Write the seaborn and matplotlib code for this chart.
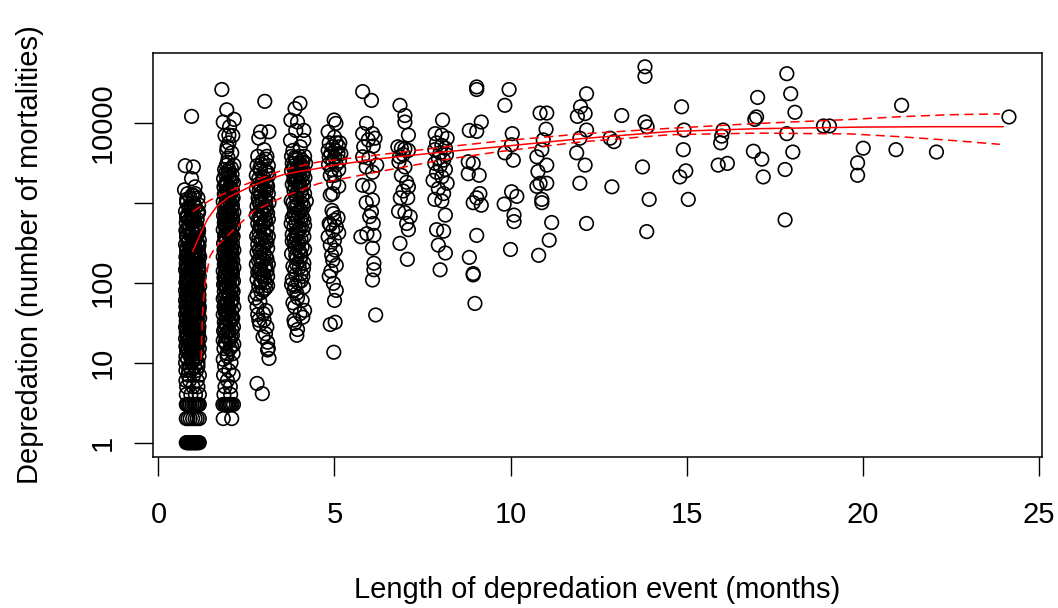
import matplotlib
matplotlib.use("Agg")
import matplotlib.pyplot as plt
from matplotlib.ticker import NullLocator
import pandas as pd
import seaborn as sns

# ---------------- data (months, mortalities) ----------------
col01 = [(0.79,1),(0.84,1),(0.89,1),(0.94,1),(1.00,1),(1.05,1),(1.10,1),(1.16,1),
         (0.82,1),(0.87,1),(0.92,1),(0.97,1),(1.02,1),(1.08,1),(1.13,1),
         (0.79,2),(0.84,2),(0.90,2),(0.97,2),(1.04,2),(1.10,2),(1.16,2),
         (0.79,3),(0.82,3),(0.86,3),(0.90,3),(0.95,3),(1.00,3),(1.04,3),(1.08,3),(1.12,3),(1.16,3),
         (0.79,4),(0.92,4),(1.05,4),(1.16,4),
         (0.80,5),(0.98,5),(1.12,5),
         (0.78,6),(0.88,6),(1.10,6),
         (0.84,7),(1.00,7),(1.16,7),
         (0.78,8),(0.86,8),(0.93,8),(1.08,8),
         (0.88,9),(1.03,9),(1.12,9),
         (0.77,10),(0.95,10),(1.12,10),
         (0.83,11),(0.97,11),(1.05,11),
         (0.78,12),(0.90,12),(0.92,12),(1.15,12),
         (0.86,13),(1.01,13),(1.08,13),
         (0.80,14),(0.96,14),(1.10,14),
         (0.84,15),(0.92,15),(1.04,15),(1.16,15),
         (0.78,16),(0.99,16),(1.09,16),
         (0.87,17),(0.95,17),(1.12,17),
         (0.81,18),(0.96,18),(1.03,18),
         (0.77,20),(0.90,20),(1.06,20),(1.17,20),
         (0.85,22),(0.95,22),(1.00,22),
         (0.79,24),(0.94,24),(1.06,24),(1.13,24),
         (0.88,26),(0.97,26),(1.07,26),
         (0.77,28),(0.98,28),(1.10,28),(1.15,28),
         (0.84,30),(0.92,30),(1.03,30),
         (0.79,33),(0.93,33),(1.10,33),
         (0.87,36),(0.95,36),(1.17,36),
         (0.77,40),(0.88,40),(0.96,40),(1.06,40),
         (0.83,43),(1.02,43),(1.12,43),
         (0.90,46),(0.96,46),(1.02,46),
         (0.78,50),(0.88,50),(0.94,50),(1.16,50),
         (0.86,55),(1.04,55),(1.08,55),
         (0.77,60),(0.97,60),(1.13,60),
         (0.84,65),(0.88,65),(1.02,65),
         (0.79,70),(0.92,70),(0.97,70),(1.15,70),
         (0.88,75),(1.06,75),(1.12,75),
         (0.77,80),(0.86,80),(0.99,80),(1.12,80),
         (0.83,90),(0.95,90),(1.17,90),
         (0.78,100),(0.90,100),(1.04,100),
         (0.86,110),(1.01,110),(1.11,110),
         (0.80,120),(0.95,120),(0.97,120),(1.16,120),
         (0.89,130),(1.05,130),
         (0.77,145),(0.93,145),(1.00,145),(1.12,145),
         (0.85,160),(1.01,160),
         (0.79,175),(0.96,175),(1.08,175),(1.14,175),
         (0.88,190),(1.02,190),(1.07,190),
         (0.78,210),(0.94,210),(0.99,210),(1.17,210),
         (0.84,230),(0.94,230),(1.14,230),
         (0.80,250),(1.00,250),(1.05,250),(1.13,250),
         (0.89,280),(0.95,280),(1.00,280),
         (0.77,300),(0.95,300),(1.10,300),
         (0.85,340),(1.04,340),(1.16,340),
         (0.80,370),(1.02,370),
         (0.80,390),(0.90,400),(0.96,420),(1.08,400),
         (0.78,450),(0.97,450),(1.12,480),(1.14,450),
         (0.86,500),(0.88,540),(1.04,500),
         (0.79,560),(0.93,560),(1.02,600),
         (0.81,640),(0.88,620),(1.10,620),
         (0.82,700),(0.95,700),(1.00,700),
         (0.77,780),(0.95,780),(1.12,780),(1.14,760),
         (0.86,880),(0.88,850),(1.05,880),
         (0.80,1000),(0.98,1000),(1.02,950),
         (0.80,1100),(0.90,1150),(1.12,1150),
         (0.83,1300),(0.96,1250),(1.04,1300),
         (0.74,1450),(1.04,1580),(0.94,2000),(0.99,2800),(0.76,2900),(0.94,12000)]

col01_extra = [(0.95,19),(1.10,19),(0.82,21),(1.03,23),(0.90,25),(1.14,25),(0.80,27),(0.96,29),(1.09,31),
               (0.81,35),(1.00,38),(0.91,42),(1.15,45),(0.82,48),(1.01,52),(0.90,58),(1.10,62),(0.80,68),
               (0.97,72),(1.05,78),(0.90,85),(1.08,95),(0.80,105),(1.00,115),(0.91,125),(1.14,138),
               (0.82,150),(1.04,168),(0.92,182),(1.12,200),(0.82,220),(1.06,240),(0.93,265),(1.15,290),
               (0.84,320),(1.00,355),(0.92,385),(1.13,420),(0.83,470),(1.07,530),(0.97,590),(0.80,660),
               (1.12,740),(0.92,830),(1.14,940),(1.00,1220),
               (0.86,19),(1.12,21),(0.83,23),(0.86,32),(1.04,34),(0.80,37),(1.13,38),(0.81,44),(1.14,48),
               (0.80,56),(0.95,58),(1.15,60),(0.82,70),(0.80,88),(0.94,92),(1.13,96),(0.87,102),(1.01,108),
               (0.81,113),(1.10,124),(0.84,132),(1.00,138),(0.92,142),(1.15,150),(0.80,156),(0.96,165),
               (0.86,180),(0.81,205),(1.14,225),(0.87,240),(0.80,270),(1.12,310),(0.86,330),(1.04,350)]

col02 = [(1.84,2),(2.08,2),
         (1.83,3),(1.88,3),(1.92,3),(1.96,3),(2.00,3),(2.04,3),(2.08,3),(2.13,3),
         (1.86,4),(2.05,4),(1.89,5),(2.04,5),(1.96,6),(1.85,7),(2.12,7),(2.00,8),(1.88,9),(2.06,10),(1.84,11),
         (1.95,13),(2.12,13),(1.86,15),(2.03,15),(1.92,17),(2.14,17),(1.84,19),(2.02,19),(1.90,22),(2.10,22),
         (1.85,25),(2.00,25),(1.95,28),(2.13,28),(1.87,32),(2.04,32),(1.93,36),(2.11,36),(1.84,40),(2.00,40),
         (1.90,45),(2.08,45),(1.86,50),(2.14,50),(1.96,56),(2.05,56),(1.84,63),(2.10,63),(1.92,70),(2.02,70),
         (1.87,78),(2.12,78),(1.95,86),(2.06,86),(1.85,95),(2.00,95),(1.91,105),(2.13,105),(1.86,115),(2.04,115),
         (1.97,128),(2.10,128),(1.84,140),(2.02,140),(1.92,155),(2.14,155),(1.87,170),(2.06,170),(1.95,190),(2.11,190),
         (1.84,210),(2.01,210),(1.90,230),(2.09,230),(1.86,255),(2.14,255),(1.97,280),(2.05,280),(1.85,310),(2.10,310),
         (1.93,340),(2.02,340),(1.88,380),(2.12,380),(1.96,420),(2.06,420),(1.84,460),(2.00,460),(1.91,510),(2.13,510),
         (1.87,560),(2.05,560),(1.96,620),(2.11,620),(1.85,690),(2.02,690),(1.92,760),(2.14,760),(1.88,840),(2.06,840),
         (1.97,930),(2.10,930),(1.84,1030),(2.02,1030),(1.93,1150),(2.12,1150),(1.87,1280),(2.04,1280),(1.96,1420),(2.10,1420),
         (1.86,1580),(2.02,1580),(1.92,1780),(2.13,1780),(1.85,2000),(2.05,2000),(1.97,2250),(2.09,2250),(1.88,2600),(2.00,2600),
         (1.93,2950),(2.14,2950),
         (1.98,3600),(2.08,4200),(1.94,4500),(1.95,5000),(2.00,5600),(2.11,6900),(1.89,6900),(2.00,7000),(2.02,8900),
         (1.84,10200),(2.15,11000),(1.94,14500),(1.80,26000)]

col02_extra = [(1.98,20),(1.88,27),(2.08,34),(1.97,42),(1.88,53),(2.08,60),(1.97,74),(1.88,90),(2.09,100),
               (1.97,120),(1.90,135),(2.08,150),(1.98,180),(1.89,200),(2.05,240),(1.93,265),(2.00,300),
               (1.90,360),(2.08,400),(1.93,480),(2.00,590),(1.90,650),(2.08,720),(1.98,800),(1.91,980),
               (2.08,1100),(1.97,1350),(1.90,1700),(2.08,1900),(1.98,2400),
               (1.95,12),(2.08,16),(1.90,18),(2.05,21),(1.95,24),(2.08,26),(1.90,30),(2.00,33),(2.08,38),
               (1.90,42),(2.00,48),(1.93,55),(2.08,58),(1.88,66),(2.00,75),(2.08,82),(1.92,88),(2.02,108),
               (1.88,122),(2.08,135),(1.95,145),(2.02,162),(1.90,180),(2.08,205),(1.96,220),(1.88,245),
               (2.08,270),(1.92,290),(2.04,325),(1.90,350),(2.00,400),(1.92,440),(2.08,470),(1.88,530),
               (2.00,540),(2.08,600),(1.90,720),(2.00,780),(2.08,880),(1.92,900),(2.00,1200),(1.90,1300),
               (2.08,1500),(1.95,1650),(2.00,2100),(1.90,2300),(2.07,2700),(1.96,3200)]

col03 = [(3.02,18500),(2.90,7700),(3.14,7700),(2.85,6400),(3.00,4600),
         (2.82,3800),(3.08,3800),(2.95,3300),(2.80,2900),(3.12,2900),(2.90,2500),(3.04,2500),(2.78,2200),(3.13,2200),
         (2.95,1900),(2.84,1700),(3.08,1700),(3.00,1500),(2.78,1500),(2.90,1300),(3.12,1300),(2.83,1150),(3.02,1150),
         (2.95,1000),(3.14,1000),(2.80,900),(2.90,800),(3.06,800),(2.78,700),(3.00,700),(2.88,620),(3.12,620),
         (2.82,550),(2.97,550),(3.08,480),(2.86,430),(2.98,430),(2.79,380),(3.12,380),(2.92,340),(3.04,340),
         (2.82,300),(2.96,270),(3.10,270),(2.80,240),(2.90,240),(3.05,215),(2.84,190),(2.98,190),(3.12,170),(2.78,170),
         (2.90,150),(3.02,150),(2.82,135),(2.95,120),(3.10,120),(2.80,110),(2.90,100),(3.05,100),(2.85,90),(2.98,80),(2.80,72),
         (2.75,64),(2.88,58),(2.80,50),(3.05,45),(2.98,41),(2.82,40),(2.85,34),(3.00,34),(2.88,30),(3.08,28),
         (3.04,23),(2.97,21),(3.10,18),(3.12,15),(3.10,14.4),(3.14,11.3),(2.80,5.5),(2.95,4.1)]

col03_extra = [(3.05,3500),(2.88,2700),(2.98,2050),(3.10,1600),(2.86,1400),(3.05,1080),(2.88,950),(3.00,860),
               (3.10,740),(2.90,660),(3.02,600),(2.88,500),(2.95,360),(3.08,320),(2.86,260),(3.00,230),
               (3.08,200),(2.92,175),(3.08,140),(2.88,128),(3.00,110),(3.10,92),
               (2.92,3000),(3.10,2400),(2.85,2000),(3.05,1800),(2.92,1600),(3.06,1400),(2.90,1200),(2.85,1050),
               (3.06,900),(2.95,760),(2.85,650),(3.05,580),(2.92,520),(3.05,400),(2.85,360),(3.00,290),
               (2.88,205),(3.05,160),(2.86,145),(3.00,125),(2.92,105),(3.04,85),(2.92,75)]

col04 = [(4.02,17500),(3.88,15000),(3.76,10800),(3.95,10200),(3.90,8000),(4.13,8000),(3.75,6000),(4.13,6000),(4.03,5000),(3.82,4500),
         (3.78,3800),(4.00,3800),(4.15,3800),(3.90,3400),(4.08,3400),(3.80,3100),(4.18,3100),(3.95,2800),(4.05,2800),
         (3.78,2500),(3.90,2500),(4.12,2500),(4.00,2250),(3.85,2050),(4.16,2050),(3.95,1850),(4.08,1850),(3.80,1700),
         (3.96,1450),(4.15,1300),(3.77,1060),(4.05,1000),(4.20,1050),
         (3.85,880),(4.12,880),(3.96,740),(3.80,650),(4.13,610),(3.77,550),(4.15,520),(4.03,480),(3.92,430),(3.80,400),
         (4.13,375),(4.05,350),(3.80,330),(3.87,310),(4.08,280),(4.15,260),(3.98,255),(3.78,230),(3.93,200),(4.02,190),
         (4.13,175),(3.82,160),(4.12,150),(3.87,145),(4.05,130),(4.10,120),(3.80,110),(3.97,100),(3.78,95),(4.12,88),
         (3.85,80),(3.93,74),(3.95,65),(4.08,60),(3.82,56),(3.87,50),(4.15,45),(4.02,41),(4.10,37),(3.85,34),(3.87,31),
         (3.95,26),(3.93,22)]

col04_extra = [(3.92,3600),(4.05,3000),(3.85,2650),(4.02,2350),(3.92,2150),(3.85,1900),(4.02,1600),(3.88,1550),
               (4.08,1200),(3.92,1150),(3.95,960),(4.02,820),(3.90,700),(4.05,600),(3.90,560),(3.98,460),
               (3.92,380),(3.96,300),(4.02,240),(3.90,220),
               (3.88,3700),(4.10,3200),(3.85,2900),(4.00,2600),(4.10,2200),(3.90,2000),(4.00,1750),(4.12,1650),
               (3.85,1400),(4.05,1400),(3.90,1250),(3.82,1000),(4.10,950),(3.92,900),(4.05,780),(3.85,720),
               (4.08,680),(3.95,620),(3.85,500),(4.10,450),(3.95,410),(3.85,360),(4.00,320),(3.88,270),
               (4.05,215),(3.92,170),(4.00,155),(3.90,125),(4.05,105),(3.88,90)]

col05 = [(4.99,10800),(5.04,9800),(4.82,7700),(5.00,6600),
         (4.85,5600),(5.05,5600),(5.15,5600),(4.95,5000),(5.12,5000),(4.82,4500),(5.02,4500),(4.90,4100),(5.10,4100),
         (5.18,4100),(4.85,3700),(5.00,3700),(4.95,3300),(5.14,3300),(4.83,3000),(5.05,3000),(4.92,2600),(5.12,2600),
         (4.88,2200),(5.00,2200),(4.98,1750),(5.12,1600),(4.95,1300),(4.88,1250),
         (4.93,800),(4.97,730),(5.10,650),(5.00,605),(4.85,550),(4.88,530),(5.05,500),(4.95,450),(5.12,420),(4.82,375),
         (5.00,340),(4.88,295),(5.02,255),(4.92,220),(4.95,190),(5.05,165),(4.90,140),(4.85,120),(4.97,98),(5.05,80),
         (5.00,60),(5.02,32),(4.88,30),(4.98,13.5)]

col06 = [(5.80,24500),(6.05,19000),(5.91,9800),(5.80,7300),(6.08,7300),(5.96,6100),(6.15,6400),(5.83,5000),(6.10,5100),
         (5.80,3750),(5.98,3600),(5.90,2800),(6.08,2400),(6.20,2950),(5.80,1650),(5.98,1580),(6.08,1080),(5.90,1000),
         (6.05,770),(6.00,670),(6.10,550),(5.92,410),(6.12,390),(5.75,375),(6.08,270),(6.12,175),(6.12,145),(6.08,108),
         (6.17,39.5)]

col07 = [(6.86,16500),(7.00,12300),(7.00,10200),(7.10,7000),(6.80,5000),(6.90,4800),(7.00,4700),(7.10,4500),(6.85,3750),
         (6.95,4000),(6.83,3250),(7.00,2800),(6.90,2200),(7.05,1800),(7.10,1580),(6.95,1400),(6.87,1150),(7.08,1150),
         (6.82,780),(7.00,750),(7.15,670),(7.05,550),(7.10,460),(6.86,310),(7.07,196)]

col08 = [(8.07,10800),(7.86,7300),(8.05,7000),(8.20,6400),(7.90,5600),(8.05,5200),(8.15,4800),(7.85,4600),(8.00,4200),
         (8.18,4000),(7.95,3600),(8.10,3400),(7.85,3100),(8.00,2900),(8.15,2600),(7.90,2400),(8.05,2100),(7.80,1900),
         (8.20,1750),(7.95,1500),(8.10,1300),(7.85,1100),(8.05,1050),(8.15,700),(7.90,460),(8.10,440),(7.95,295),
         (8.15,235),(8.00,145)]

col09 = [(9.04,28000),(9.04,26000),(9.17,10200),(8.83,8000),(9.04,7800),(8.80,3250),(8.94,3100),(9.11,2200),(8.80,2300),
         (9.13,1300),(9.04,1150),(8.94,1000),(9.17,930),(9.04,390),(8.83,207),(8.94,130),(8.94,125),(8.99,55)]

col10 = [(9.96,26000),(9.84,16500),(10.05,7300),(10.03,5300),(9.84,4200),(10.08,3400),(10.03,1370),(10.18,1200),
         (9.82,960),(10.10,700),(10.10,580),(10.00,260)]

col11 = [(10.84,13200),(11.03,13200),(11.01,8300),(10.93,6100),(10.89,4600),(10.75,3750),(11.03,2950),(10.78,2450),
         (10.84,1750),(11.03,1750),(10.75,1600),(10.89,1100),(10.89,1000),(11.17,565),(11.10,340),(10.80,220)]

col12 = [(12.16,23000),(11.99,15800),(12.12,13000),(11.90,12000),(12.16,8100),(11.97,6400),(11.88,4200),
         (12.12,2950),(11.97,1750),(12.16,550)]

col13_14 = [(13.16,12300),(12.83,6400),(12.94,5800),(12.88,1580),
            (13.82,50000),(13.82,38000),(13.82,10200),(13.88,8900),(13.75,2800),(13.94,1100),(13.87,435)]

col15_18 = [(14.86,15800),(14.93,8100),(14.91,4600),(14.81,2100),(14.98,2500),(15.05,1100),
            (16.04,8100),(16.00,6800),(15.97,5600),(15.90,2950),(16.16,3100),
            (17.02,20700),(16.99,11800),(16.94,11000),(16.90,4400),(17.14,3500),(17.18,2100),
            (17.85,41000),(17.96,23000),(18.08,13500),(17.85,7300),(18.02,4300),(17.80,2600),(17.80,610)]

col19_24 = [(18.89,9100),(19.06,9100),(20.02,4800),(19.86,3150),(19.86,2200),(20.95,4600),(21.11,16500),
            (22.10,4300),(24.16,11800)]

# fitted curve and its confidence band
fit_x = [0.97, 1.2, 1.4, 1.65, 2.0, 2.6, 3.0, 3.54, 4.0, 4.55, 5.0, 6.29, 8.0, 9.7, 12.0, 14.53, 17.0, 19.93, 22.0, 24.0]
fit_y = [245, 417, 631, 891, 1175, 1585, 1862, 2239, 2455, 2692, 2951, 3548, 4266, 5012, 6310, 7762, 8414, 8810, 8913, 8913]
upper_x = [0.98, 1.46, 1.75, 2.31, 2.88, 3.54, 4.55, 6.29, 8.0, 9.7, 12.0, 14.53, 17.0, 19.64, 21.06, 22.49, 23.9]
upper_y = [776, 1072, 1230, 1585, 1995, 2570, 3236, 3981, 4898, 5888, 7244, 8511, 9772, 10965, 11885, 12589, 12882]
lower_x = [1.21, 1.25, 1.32, 1.46, 1.6, 2.22, 2.69, 3.55, 4.55, 6.29, 8.0, 9.7, 12.0, 14.53, 17.0, 19.64, 21.06, 22.49, 23.9]
lower_y = [11, 40, 98, 214, 269, 501, 776, 1189, 1738, 2455, 3388, 4365, 5754, 7079, 7413, 7244, 6683, 6026, 5370]

x_ticks = [0, 5, 10, 15, 20, 25]
y_ticks = [1, 10, 100, 1000, 10000]
y_tick_labels = ["1", "10", "100", "", "10000"]
x_title = "Length of depredation event (months)"
y_title = "Depredation (number of mortalities)"

# ---------------- plotting ----------------
sns.set_style("white")
plt.rcParams["font.family"] = ["Liberation Sans", "DejaVu Sans"]
plt.rcParams["text.color"] = "black"
plt.rcParams["axes.labelcolor"] = "black"

columns = [col01, col01_extra, col02, col02_extra, col03, col03_extra, col04, col04_extra, col05,
           col06, col07, col08, col09, col10, col11, col12, col13_14, col15_18, col19_24]
df = pd.DataFrame([p for col in columns for p in col], columns=["months", "mortalities"])

fig = plt.figure(figsize=(10.58, 6.08), dpi=100)
ax = fig.add_axes([0.1443, 0.2484, 0.8403, 0.6649])

sns.scatterplot(data=df, x="months", y="mortalities", ax=ax, marker="o", s=95,
                facecolors="none", edgecolor="black", linewidth=1.2, zorder=2, legend=False)

dash = (0, (6, 3.5))
sns.lineplot(x=fit_x, y=fit_y, ax=ax, color="red", linewidth=1.1, estimator=None, sort=False, zorder=3)
sns.lineplot(x=upper_x, y=upper_y, ax=ax, color="red", linewidth=1.1, linestyle=dash,
             estimator=None, sort=False, zorder=3)
sns.lineplot(x=lower_x, y=lower_y, ax=ax, color="red", linewidth=1.1, linestyle=dash,
             estimator=None, sort=False, zorder=3)

ax.set_yscale("log")
ax.set_xlim(-0.165, 25.09)
ax.set_ylim(10 ** -0.179, 10 ** 4.875)
ax.set_xticks(x_ticks)
ax.set_xticklabels([str(t) for t in x_ticks])
ax.set_yticks(y_ticks)
ax.set_yticklabels(y_tick_labels)
ax.yaxis.set_minor_locator(NullLocator())
ax.tick_params(axis="both", which="major", bottom=True, left=True, direction="out", length=14,
               width=1.0, labelsize=21, color="black", labelcolor="black")
ax.tick_params(axis="x", pad=18)
ax.tick_params(axis="y", pad=12)
for lab in ax.get_yticklabels():
    lab.set_rotation(90)
    lab.set_va("center")

for sp in ax.spines.values():
    sp.set_visible(True)
    sp.set_color("black")
    sp.set_linewidth(1.1)

ax.set_xlabel(x_title, fontsize=21, color="black")
ax.set_ylabel(y_title, fontsize=21, color="black")
ax.xaxis.set_label_coords(0.5, -0.328)
ax.yaxis.set_label_coords(-0.138, 0.5)
ax.xaxis.label.set_va("center")
ax.yaxis.label.set_va("center")

fig.savefig("out.png", dpi=100, facecolor="white")
